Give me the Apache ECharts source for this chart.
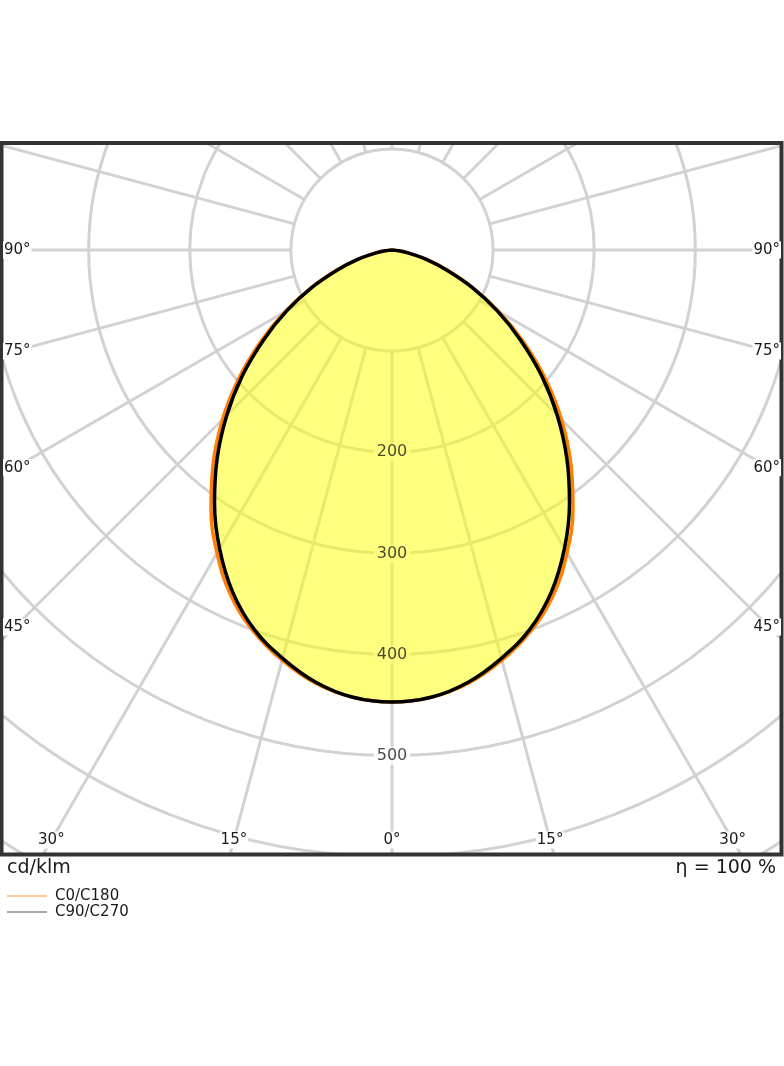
<!DOCTYPE html>
<html>
<head>
<meta charset="utf-8">
<style>
  html, body { margin: 0; padding: 0; background: #fff; }
  #chart { width: 784px; height: 1066px; }
</style>
<script src="https://cdn.jsdelivr.net/npm/echarts@6/dist/echarts.min.js"></script>
</head>
<body>
<div id="chart"></div>
<script>
// ================= data (cd/klm, angle from nadir) =================
const angles = [0, 5, 10, 15, 20, 25, 30, 35, 40, 45, 50, 55, 60, 65, 70, 75, 80, 85, 90]
const c0c180 = [447, 444, 435, 420, 401, 377, 346, 312, 275, 237, 198, 159, 122, 88, 58, 34, 16, 4, 0]
const c90c270 = [447, 444, 434, 418, 399, 373, 341, 306, 269, 231, 193, 155, 120, 87, 57, 34, 16, 4, 0]
const seriesNames = ['C0/C180', 'C90/C270']
const ringLabels = [200, 300, 400, 500]
const sideTickAngles = [90, 75, 60, 45]
const bottomTickAngles = [30, 15, 0]

// ================= layout =================
const cx = 392
const cy = 250
const outerR = 809          // px for radius value 800
const innerR = 101.1        // px for radius value 100
const font = '"DejaVu Sans", sans-serif'
const textColor = '#1a1a1a'

const chart = echarts.init(document.getElementById('chart'))

// both halves of a plane: right side negative angles, left side positive
const toPolar = (vals) => {
  const pts = []
  for (let i = angles.length - 1; i >= 0; i--) pts.push([vals[i], -angles[i]])
  for (let i = 1; i < angles.length; i++) pts.push([vals[i], angles[i]])
  return pts
}

const angleText = (a, x, y, align) => ({
  type: 'text',
  z: 103,
  x, y,
  style: {
    text: a + '°',
    font: '15px ' + font,
    fill: textColor,
    align: align, textAlign: align,
    verticalAlign: 'middle', textVerticalAlign: 'middle',
    backgroundColor: '#fff',
    padding: [1, 1]
  }
})

const graphics = [
  // masks outside the frame
  { type: 'rect', z: 100, shape: { x: 0, y: 0, width: 784, height: 143 }, style: { fill: '#fff' } },
  { type: 'rect', z: 100, shape: { x: 0, y: 855, width: 784, height: 211 }, style: { fill: '#fff' } },
  { type: 'rect', z: 100, shape: { x: 0, y: 0, width: 2, height: 1066 }, style: { fill: '#fff' } },
  { type: 'rect', z: 100, shape: { x: 782, y: 0, width: 2, height: 1066 }, style: { fill: '#fff' } },
  // frame
  { type: 'rect', z: 102, shape: { x: 1.5, y: 143, width: 780, height: 711.5 }, style: { fill: 'none', stroke: '#333', lineWidth: 4 } },
  {
    type: 'text', z: 103, x: 7, y: 868,
    style: { text: 'cd/klm', font: '19px ' + font, fill: textColor, align: 'left', textAlign: 'left', verticalAlign: 'middle', textVerticalAlign: 'middle' }
  },
  {
    type: 'text', z: 103, x: 776, y: 868,
    style: { text: 'η = 100 %', font: '19px ' + font, fill: textColor, align: 'right', textAlign: 'right', verticalAlign: 'middle', textVerticalAlign: 'middle' }
  }
]

// angle labels where the rays meet the frame
sideTickAngles.forEach(a => {
  const t = a * Math.PI / 180
  const dy = (cx - 15) * Math.cos(t) / Math.sin(t)
  graphics.push(angleText(a, 3, cy + dy, 'left'))
  graphics.push(angleText(a, 781, cy + dy, 'right'))
})
bottomTickAngles.forEach(a => {
  const t = a * Math.PI / 180
  const dx = (840 - cy) * Math.tan(t)
  graphics.push(angleText(a, cx - dx, 840, 'center'))
  if (a !== 0) graphics.push(angleText(a, cx + dx, 840, 'center'))
})

const ringLabel = (textFill, bg) => ({
  show: true,
  position: 'inside',
  formatter: (p) => String(p.value[0]),
  color: textFill,
  fontSize: 16,
  fontFamily: font,
  backgroundColor: bg,
  padding: [1, 3]
})

const option = {
  animation: false,
  polar: [
    { center: [cx, cy], radius: [innerR, outerR] },
    { center: [cx, cy], radius: [0, outerR] }
  ],
  angleAxis: [
    {
      polarIndex: 0, type: 'value', min: -180, max: 180, interval: 15,
      startAngle: 90, clockwise: true,
      axisLine: { show: false }, axisTick: { show: false }, axisLabel: { show: false },
      splitLine: { show: true, lineStyle: { color: '#d2d2d2', width: 3 } }
    },
    {
      polarIndex: 1, type: 'value', min: -180, max: 180,
      startAngle: 90, clockwise: true,
      axisLine: { show: false }, axisTick: { show: false }, axisLabel: { show: false },
      splitLine: { show: false }
    }
  ],
  radiusAxis: [
    {
      polarIndex: 0, type: 'value', min: 100, max: 800, interval: 100,
      axisLine: { show: false }, axisTick: { show: false }, axisLabel: { show: false },
      splitLine: { show: true, lineStyle: { color: '#d2d2d2', width: 3 } }
    },
    {
      polarIndex: 1, type: 'value', min: 0, max: 800,
      axisLine: { show: false }, axisTick: { show: false }, axisLabel: { show: false },
      splitLine: { show: false }
    }
  ],
  legend: {
    z: 110,
    data: seriesNames,
    orient: 'vertical',
    left: 7,
    top: 888,
    icon: 'rect',
    itemWidth: 40,
    itemHeight: 1,
    itemGap: 0,
    padding: 0,
    selectedMode: false,
    textStyle: { fontSize: 15, lineHeight: 16, fontFamily: font, color: textColor, padding: [0, 0, 0, 3] }
  },
  graphic: graphics,
  series: [
    {
      name: 'ringMask',
      type: 'scatter',
      coordinateSystem: 'polar',
      polarIndex: 1,
      z: 2,
      symbolSize: 1,
      itemStyle: { color: 'rgba(0,0,0,0)' },
      label: ringLabel('rgba(0,0,0,0)', '#fff'),
      data: ringLabels.map(v => [v, 0])
    },
    {
      name: seriesNames[0],
      type: 'line',
      coordinateSystem: 'polar',
      polarIndex: 1,
      z: 3,
      clip: false,
      smooth: 0.4,
      symbol: 'none',
      lineStyle: { color: '#ff8000', width: 3.5 },
      itemStyle: { color: '#ff9a33' },
      areaStyle: { color: 'rgba(255,255,0,0.5)', opacity: 1 },
      data: toPolar(c0c180)
    },
    {
      name: seriesNames[1],
      type: 'line',
      coordinateSystem: 'polar',
      polarIndex: 1,
      z: 4,
      clip: false,
      smooth: 0.4,
      symbol: 'none',
      lineStyle: { color: '#000', width: 3.5 },
      itemStyle: { color: '#555' },
      data: toPolar(c90c270)
    },
    {
      name: 'ringText',
      type: 'scatter',
      coordinateSystem: 'polar',
      polarIndex: 1,
      z: 5,
      symbolSize: 1,
      itemStyle: { color: 'rgba(0,0,0,0)' },
      label: ringLabel(textColor, 'transparent'),
      data: ringLabels.map(v => [v, 0])
    }
  ]
}

chart.setOption(option)
</script>
</body>
</html>
